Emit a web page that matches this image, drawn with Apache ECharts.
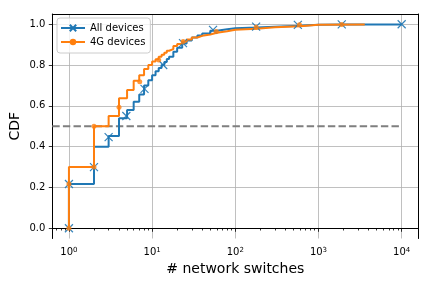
<!DOCTYPE html>
<html><head><meta charset="utf-8">
<script src="https://cdn.jsdelivr.net/npm/echarts@6/dist/echarts.min.js"></script>
<style>html,body{margin:0;padding:0;background:#fff}#c{width:432px;height:288px}</style>
</head><body><div id="c"></div>
<script>
const allX   = [1, 1, 2, 3, 4, 5, 6, 7, 8, 9, 10, 11, 12, 13, 14, 15, 16, 18, 20, 23, 26, 30, 35, 40, 50, 60, 80, 100, 180, 300, 600, 1000, 2000, 10000];
const allY   = [0, 0.217, 0.40, 0.452, 0.539, 0.58, 0.62, 0.655, 0.70, 0.725, 0.75, 0.77, 0.785, 0.80, 0.815, 0.83, 0.84, 0.865, 0.885, 0.905, 0.92, 0.935, 0.945, 0.955, 0.968, 0.975, 0.98, 0.984, 0.988, 0.993, 0.997, 0.998, 0.999, 1.0];
const g4X    = [1, 1, 2, 3, 4, 5, 6, 7, 8, 9, 10, 11, 12, 13, 14, 15, 16, 18, 20, 23, 26, 30, 35, 40, 50, 60, 80, 100, 180, 300, 600, 1000, 3600];
const g4Y    = [0, 0.30, 0.50, 0.55, 0.637, 0.678, 0.723, 0.75, 0.78, 0.80, 0.817, 0.828, 0.84, 0.85, 0.86, 0.87, 0.878, 0.893, 0.903, 0.915, 0.925, 0.935, 0.943, 0.95, 0.958, 0.965, 0.973, 0.978, 0.985, 0.99, 0.997, 0.998, 1.0];
const allMarkX = [1, 1, 2, 3, 4.9, 8.1, 13.6, 23.5, 54, 178, 565, 1904, 10000];
const allMarkY = [0, 0.217, 0.30, 0.447, 0.55, 0.683, 0.80, 0.907, 0.972, 0.988, 0.997, 0.999, 1.0];
const g4MarkX  = [1, 1, 2, 2, 4, 7.1, 12, 23.6, 59, 178, 590, 1904];
const g4MarkY  = [0, 0.217, 0.30, 0.50, 0.593, 0.718, 0.825, 0.915, 0.964, 0.985, 0.997, 0.998];
const refX = [0.631, 10000];
const refY = [0.5, 0.5];
const xMajor = [1, 10, 100, 1000, 10000];
const xMinor = [];
[0.1, 1, 10, 100, 1000].forEach(d => { for (let k = 2; k <= 9; k++) xMinor.push(+(d * k).toPrecision(3)); });
const yTicks = [0, 0.2, 0.4, 0.6, 0.8, 1.0];
const seriesNames = ['All devices', '4G devices'];
const colors = ['#1f77b4', '#ff7f0e'];

const XMIN = Math.pow(10, -0.2), XMAX = Math.pow(10, 4.2);
const YMIN = -0.05, YMAX = 1.05;
const zip = (a, b) => a.map((v, i) => [v, b[i]]);
const crossPath = 'path://M0,0L10,10M10,0L0,10';
const font = 'DejaVu Sans';
const gridBox = {left: 52.3, right: 13.7, top: 14, bottom: 49.5, containLabel: false, outerBoundsMode: 'none'};

const chart = echarts.init(document.getElementById('c'), null, {renderer: 'canvas'});
const baseX = {type: 'log', logBase: 10, min: XMIN, max: XMAX};
chart.setOption({
  animation: false,
  backgroundColor: '#fff',
  textStyle: {fontFamily: font},
  grid: [Object.assign({}, gridBox), Object.assign({}, gridBox)],
  legend: {
    data: seriesNames.map(n => ({name: n})),
    orient: 'vertical', left: 57, top: 18,
    itemWidth: 24, itemHeight: 8, itemGap: 4,
    padding: [5, 5, 6, 3],
    backgroundColor: 'rgba(255,255,255,0.8)', borderColor: '#cccccc', borderWidth: 1, borderRadius: 3,
    textStyle: {fontFamily: font, fontSize: 10, color: '#000'}
  },
  xAxis: [
    Object.assign({}, baseX, {
      gridIndex: 0, position: 'bottom',
      name: '# network switches', nameLocation: 'middle', nameGap: 24, nameMoveOverlap: false,
      nameTextStyle: {fontFamily: font, fontSize: 14, color: '#000'},
      axisLine: {show: true, lineStyle: {color: '#000', width: 1}},
      axisTick: {show: true, customValues: xMajor, length: 3.5, lineStyle: {color: '#000', width: 0.8}},
      axisLabel: {show: true, customValues: xMajor, margin: 8, color: '#000',
        formatter: v => '{b|10}{s|' + Math.round(Math.log10(v)) + '}',
        rich: {b: {fontFamily: font, fontSize: 10, color: '#000'}, s: {fontFamily: font, fontSize: 7, color: '#000', verticalAlign: 'top', padding: [0, 0, 5, 0]}}},
      splitLine: {show: true, lineStyle: {color: '#b0b0b0', width: 0.8}}
    }),
    Object.assign({}, baseX, {
      gridIndex: 0, position: 'top',
      axisLine: {show: true, onZero: false, lineStyle: {color: '#000', width: 1}},
      axisTick: {show: false}, axisLabel: {show: false}, splitLine: {show: false}
    }),
    Object.assign({}, baseX, {
      gridIndex: 1, position: 'bottom',
      axisLine: {show: false},
      axisTick: {show: true, customValues: xMinor, length: 2.2, lineStyle: {color: '#000', width: 0.8}},
      axisLabel: {show: false},
      splitLine: {show: false}
    })
  ],
  yAxis: [
    {
      gridIndex: 0, type: 'value', min: YMIN, max: YMAX, position: 'left',
      name: 'CDF', nameLocation: 'middle', nameGap: 30, nameRotate: 90, nameMoveOverlap: false,
      nameTextStyle: {fontFamily: font, fontSize: 14, color: '#000'},
      axisLine: {show: true, onZero: false, lineStyle: {color: '#000', width: 1}},
      axisTick: {show: true, customValues: yTicks, length: 3.5, lineStyle: {color: '#000', width: 0.8}},
      axisLabel: {show: true, customValues: yTicks, margin: 7, color: '#000', fontFamily: font, fontSize: 10,
        formatter: v => v.toFixed(1)},
      splitLine: {show: true, lineStyle: {color: '#b0b0b0', width: 0.8}}
    },
    {
      gridIndex: 0, type: 'value', min: YMIN, max: YMAX, position: 'right',
      axisLine: {show: true, onZero: false, lineStyle: {color: '#000', width: 1}},
      axisTick: {show: false}, axisLabel: {show: false}, splitLine: {show: false}
    },
    {
      gridIndex: 1, type: 'value', min: YMIN, max: YMAX, show: false
    }
  ],
  series: [
    {
      name: 'ref', type: 'line', data: zip(refX, refY), symbol: 'none', silent: true,
      lineStyle: {color: '#7f7f7f', width: 2, type: [7.4, 3.2]}, z: 2
    },
    {
      name: seriesNames[0], type: 'line', step: 'end', data: zip(allX, allY),
      symbol: crossPath, symbolSize: 8, showSymbol: false,
      itemStyle: {color: colors[0], borderColor: colors[0], borderWidth: 1.2},
      lineStyle: {color: colors[0], width: 2}, z: 3
    },
    {
      name: seriesNames[1], type: 'line', step: 'end', data: zip(g4X, g4Y),
      symbol: 'circle', symbolSize: 5, showSymbol: false,
      itemStyle: {color: colors[1]},
      lineStyle: {color: colors[1], width: 2}, z: 4
    },
    {
      name: 'allMarks', type: 'scatter', data: zip(allMarkX, allMarkY),
      symbol: crossPath, symbolSize: 8,
      itemStyle: {color: colors[0], borderColor: colors[0], borderWidth: 1.2, opacity: 0.9}, z: 5
    },
    {
      name: 'g4Marks', type: 'scatter', data: zip(g4MarkX, g4MarkY),
      symbol: 'circle', symbolSize: 5,
      itemStyle: {color: colors[1]}, z: 6
    }
  ]
});
</script>
</body></html>
